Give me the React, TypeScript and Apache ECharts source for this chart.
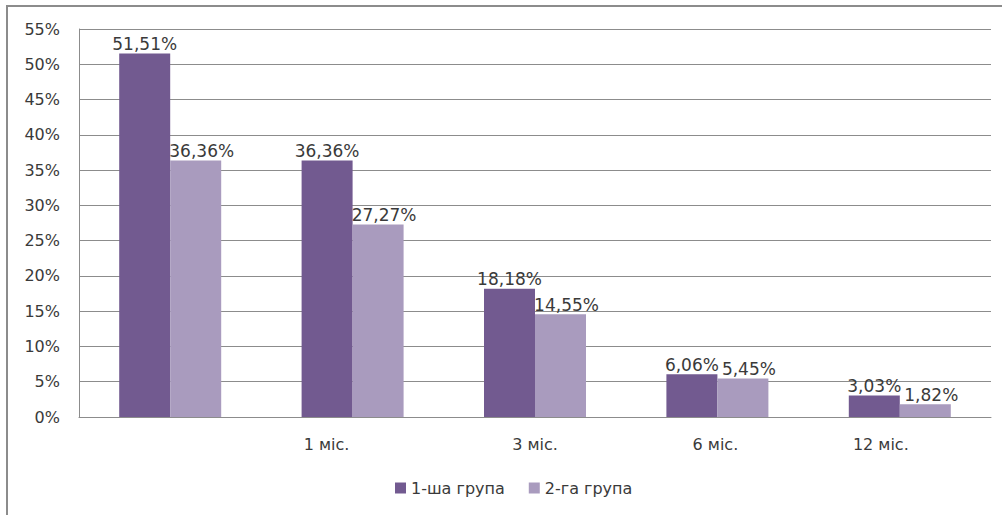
import React, { useEffect, useRef } from "react";
import * as echarts from "echarts";

const categories = ["", "1 міс.", "3 міс.", "6 міс.", "12 міс."];
// horizontal nudge of each category label (px, negative = left)
const labelShift = [0, -26, 0, -2, -19];
const group1 = [51.51, 36.36, 18.18, 6.06, 3.03];
const group2 = [36.36, 27.27, 14.55, 5.45, 1.82];
const seriesNames = ["1-ша група", "2-га група"];
const yTicks = { min: 0, max: 55, interval: 5 };

const FONT = "DejaVu Sans";
const TEXT = "#3a3a3a";

const fmt = (v: number) => v.toFixed(2).replace(".", ",") + "%";

export default function App() {
  const ref = useRef<HTMLDivElement>(null);
  useEffect(() => {
    if (!ref.current) return;
    const chart = echarts.init(ref.current, undefined, { renderer: "svg" });
    chart.setOption({
      animation: false,
      backgroundColor: "#ffffff",
      textStyle: { fontFamily: FONT },
      graphic: [
        {
          type: "rect",
          shape: { x: 7, y: 6, width: 1200, height: 700 },
          style: { fill: "none", stroke: "#8c8c8c", lineWidth: 2 },
          silent: true,
        },
      ],
      grid: { left: 79, right: 11, top: 29, bottom: 98 },
      legend: {
        left: 390,
        top: 475,
        icon: "rect",
        itemWidth: 11,
        itemHeight: 11,
        itemGap: 24,
        textStyle: { fontFamily: FONT, fontSize: 16, color: TEXT },
        data: seriesNames,
      },
      xAxis: {
        type: "category",
        data: categories.map((c, i) => ({
          value: c,
          textStyle: {
            padding: labelShift[i] < 0 ? [0, -2 * labelShift[i], 0, 0] : [0, 0, 0, 2 * labelShift[i]],
          },
        })),
        axisLine: { lineStyle: { color: "#8c8c8c", width: 1 } },
        axisTick: { show: false },
        axisLabel: { fontFamily: FONT, fontSize: 16, color: TEXT, margin: 19, interval: 0 },
      },
      yAxis: {
        type: "value",
        min: yTicks.min,
        max: yTicks.max,
        interval: yTicks.interval,
        axisLine: { show: true, lineStyle: { color: "#8c8c8c", width: 1 } },
        axisTick: { show: false },
        splitLine: { lineStyle: { color: "#8c8c8c", width: 1 } },
        axisLabel: { formatter: "{value}%", fontFamily: FONT, fontSize: 16, color: TEXT, margin: 19 },
      },
      series: [
        {
          name: seriesNames[0],
          type: "bar",
          data: group1,
          barWidth: 51,
          barGap: "0%",
          itemStyle: { color: "#725a90" },
          label: {
            show: true,
            position: "top",
            distance: 1,
            formatter: (p: any) => fmt(p.value),
            fontFamily: FONT,
            fontSize: 17,
            color: TEXT,
          },
        },
        {
          name: seriesNames[1],
          type: "bar",
          data: group2,
          barWidth: 51,
          barGap: "0%",
          itemStyle: { color: "#a99bbe" },
          label: {
            show: true,
            position: "top",
            distance: 1,
            offset: [6, 0],
            formatter: (p: any) => fmt(p.value),
            fontFamily: FONT,
            fontSize: 17,
            color: TEXT,
          },
        },
      ],
    });
    return () => chart.dispose();
  }, []);
  return (
    <div
      ref={ref}
      style={{ position: "absolute", left: 0, top: 0, width: 1002, height: 515 }}
    />
  );
}
